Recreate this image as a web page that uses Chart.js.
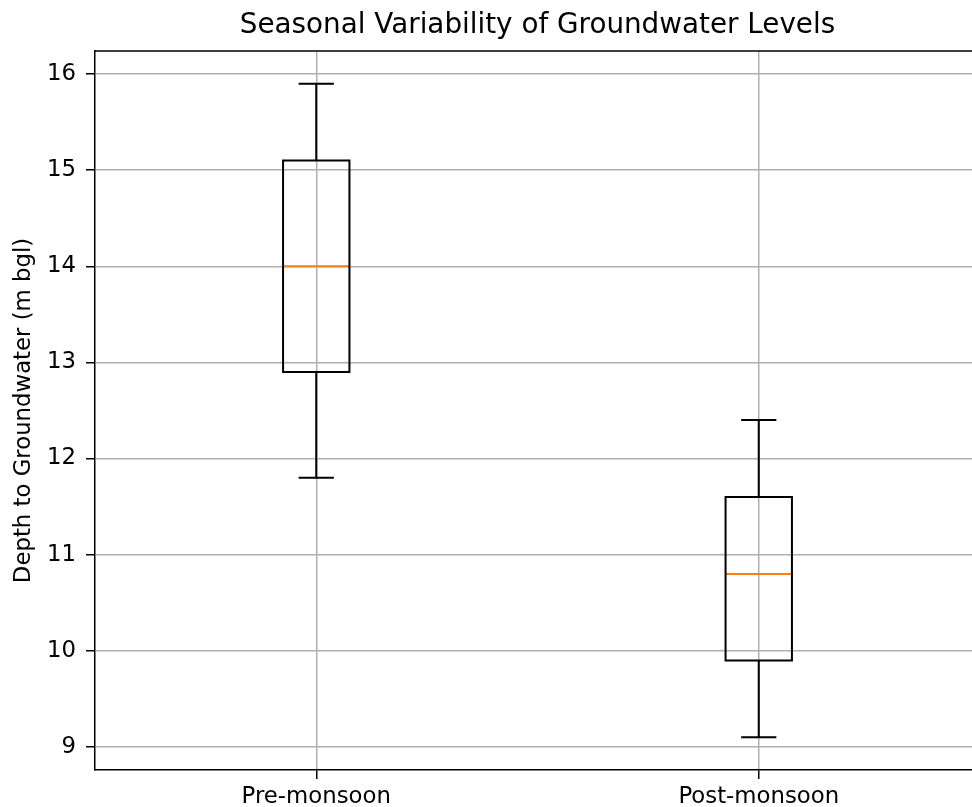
<!DOCTYPE html>
<html>
<head>
<meta charset="utf-8">
<script src="https://cdn.jsdelivr.net/npm/chart.js@4.4.1/dist/chart.umd.min.js"></script>
<style>
  html, body { margin: 0; padding: 0; background: #fff; overflow: hidden; }
  #wrap { width: 1000px; height: 807px; }
</style>
</head>
<body>
<div id="wrap"><canvas id="grafico" width="1000" height="807"></canvas></div>
<script>
// datos de la figura
const categorias = ["Pre-monsoon", "Post-monsoon"];
const posiciones = [1, 2];
const bigoteBajo = [11.8, 9.1];
const cuartil1 = [12.9, 9.9];
const mediana = [14.0, 10.8];
const cuartil3 = [15.1, 11.6];
const bigoteAlto = [15.9, 12.4];
const ticksY = [9, 10, 11, 12, 13, 14, 15, 16];

const anchoCaja = 0.15;   // ancho de la caja en unidades del eje x
const anchoTapa = 0.075;  // ancho de las tapas de los bigotes

// Arma los puntos de cada caja (con null para cortar la linea)
function puntosCaja(i) {
  const x = posiciones[i];
  const a = anchoCaja / 2;
  const t = anchoTapa / 2;
  return [
    { x: x - a, y: cuartil1[i] }, { x: x + a, y: cuartil1[i] },
    { x: x + a, y: cuartil3[i] }, { x: x - a, y: cuartil3[i] },
    { x: x - a, y: cuartil1[i] }, { x: x, y: null },
    { x: x, y: cuartil1[i] }, { x: x, y: bigoteBajo[i] }, { x: x, y: null },
    { x: x, y: cuartil3[i] }, { x: x, y: bigoteAlto[i] }, { x: x, y: null },
    { x: x - t, y: bigoteBajo[i] }, { x: x + t, y: bigoteBajo[i] }, { x: x, y: null },
    { x: x - t, y: bigoteAlto[i] }, { x: x + t, y: bigoteAlto[i] }
  ];
}

function puntosMediana(i) {
  const a = anchoCaja / 2;
  return [
    { x: posiciones[i] - a, y: mediana[i] },
    { x: posiciones[i] + a, y: mediana[i] }
  ];
}

const datasets = [];
categorias.forEach((c, i) => {
  datasets.push({
    label: c,
    data: puntosCaja(i),
    borderColor: "#000",
    borderWidth: 2,
    borderCapStyle: "square",
    pointRadius: 0,
    spanGaps: false,
    tension: 0
  });
  datasets.push({
    label: c + " mediana",
    data: puntosMediana(i),
    borderColor: "#ff7f0e",
    borderWidth: 2,
    pointRadius: 0,
    tension: 0
  });
});

// marco superior y derecho (los ejes de Chart.js solo dibujan izq/abajo)
const marco = {
  id: "marco",
  afterDatasetsDraw(chart) {
    const { ctx, chartArea } = chart;
    ctx.save();
    ctx.strokeStyle = "#000";
    ctx.lineWidth = 1.5;
    ctx.beginPath();
    ctx.moveTo(chartArea.left, chartArea.top);
    ctx.lineTo(chartArea.right, chartArea.top);
    ctx.lineTo(chartArea.right, chartArea.bottom);
    ctx.stroke();
    ctx.restore();
  }
};

const fuente = "'DejaVu Sans', sans-serif";

const ctx = document.getElementById("grafico").getContext("2d");
const chart = new Chart(ctx, {
  type: "line",
  data: { datasets: datasets },
  plugins: [marco],
  options: {
    responsive: false,
    animation: false,
    layout: { padding: { left: 0, right: 20, top: 0, bottom: 0 } },
    plugins: {
      legend: { display: false },
      tooltip: { enabled: false },
      title: {
        display: true,
        fullSize: false,
        text: "Seasonal Variability of Groundwater Levels",
        color: "#000",
        font: { family: fuente, size: 27.8, weight: "normal" },
        padding: { top: 9, bottom: 8.6 }
      }
    },
    scales: {
      x: {
        type: "linear",
        min: 0.5,
        max: 2.5,
        afterBuildTicks: (scale) => { scale.ticks = posiciones.map(v => ({ value: v })); },
        afterFit: (scale) => { scale.height = 37; },
        ticks: {
          color: "#000",
          font: { family: fuente, size: 22.8 },
          padding: 4,
          maxRotation: 0,
          callback: (v) => categorias[posiciones.indexOf(v)]
        },
        grid: { color: "#b0b0b0", lineWidth: 1.5, tickColor: "#000", tickLength: 9 },
        border: { color: "#000", width: 1.5 }
      },
      y: {
        min: 8.76,
        max: 16.24,
        afterBuildTicks: (scale) => { scale.ticks = ticksY.map(v => ({ value: v })); },
        afterFit: (scale) => { scale.width = 95; },
        ticks: {
          color: "#000",
          font: { family: fuente, size: 22.8 },
          padding: 10
        },
        grid: { color: "#b0b0b0", lineWidth: 1.5, tickColor: "#000", tickLength: 9 },
        border: { color: "#000", width: 1.5 },
        title: {
          display: true,
          text: "Depth to Groundwater (m bgl)",
          color: "#000",
          font: { family: fuente, size: 22.8 },
          padding: { top: 10, bottom: 0 }
        }
      }
    }
  }
});
</script>
</body>
</html>
